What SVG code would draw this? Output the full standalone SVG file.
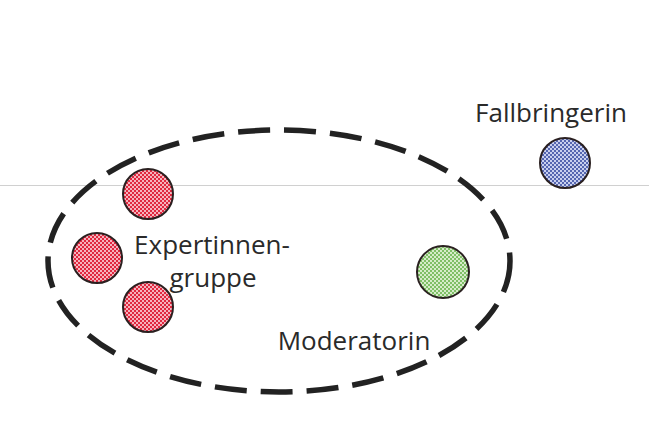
<svg xmlns="http://www.w3.org/2000/svg" width="649" height="427" viewBox="0 0 649 427">
<defs>
<pattern id="pRed" width="4" height="4" patternUnits="userSpaceOnUse">
<rect width="4" height="4" fill="#f6b3bd"/>
<rect width="2" height="2" fill="#e0283f"/>
<rect x="2" y="2" width="2" height="2" fill="#e0283f"/>
</pattern>
<pattern id="pGreen" width="4" height="4" patternUnits="userSpaceOnUse">
<rect width="4" height="4" fill="#d6ecc9"/>
<rect width="2" height="2" fill="#7fbf66"/>
<rect x="2" y="2" width="2" height="2" fill="#7fbf66"/>
</pattern>
<pattern id="pBlue" width="4" height="4" patternUnits="userSpaceOnUse">
<rect width="4" height="4" fill="#c8cfee"/>
<rect width="2" height="2" fill="#5566b0"/>
<rect x="2" y="2" width="2" height="2" fill="#5566b0"/>
</pattern>
</defs>
<style>
.lbl{font-family:"Open Sans","Noto Sans",sans-serif;font-size:26px;fill:#2a2a2a}
.node{stroke:#2a2020;stroke-width:2}
.grp{fill:none;stroke:#222;stroke-width:5.5;stroke-dasharray:32 14}
</style>
<rect width="649" height="427" fill="#fff"/>
<line x1="0" y1="185.5" x2="649" y2="185.5" stroke="#d0d0d0" stroke-width="1"/>
<g id="connectors">
<ellipse class="grp" cx="279" cy="261" rx="231" ry="131"/>
</g>
<g id="expert1"><circle class="node" cx="148" cy="194" r="25" fill="url(#pRed)"/></g>
<g id="expert2"><circle class="node" cx="97" cy="258" r="25" fill="url(#pRed)"/></g>
<g id="expert3"><circle class="node" cx="148" cy="307" r="25" fill="url(#pRed)"/></g>
<g id="expertengruppe-label"><text class="lbl" x="212" y="254" text-anchor="middle">Expertinnen-</text><text class="lbl" x="213" y="287" text-anchor="middle">gruppe</text></g>
<g id="moderatorin"><circle class="node" cx="443" cy="272" r="26" fill="url(#pGreen)"/><text class="lbl" x="354" y="350" text-anchor="middle">Moderatorin</text></g>
<g id="fallbringerin"><circle class="node" cx="565" cy="163" r="25" fill="url(#pBlue)"/><text class="lbl" x="551" y="122" text-anchor="middle">Fallbringerin</text></g>
</svg>
